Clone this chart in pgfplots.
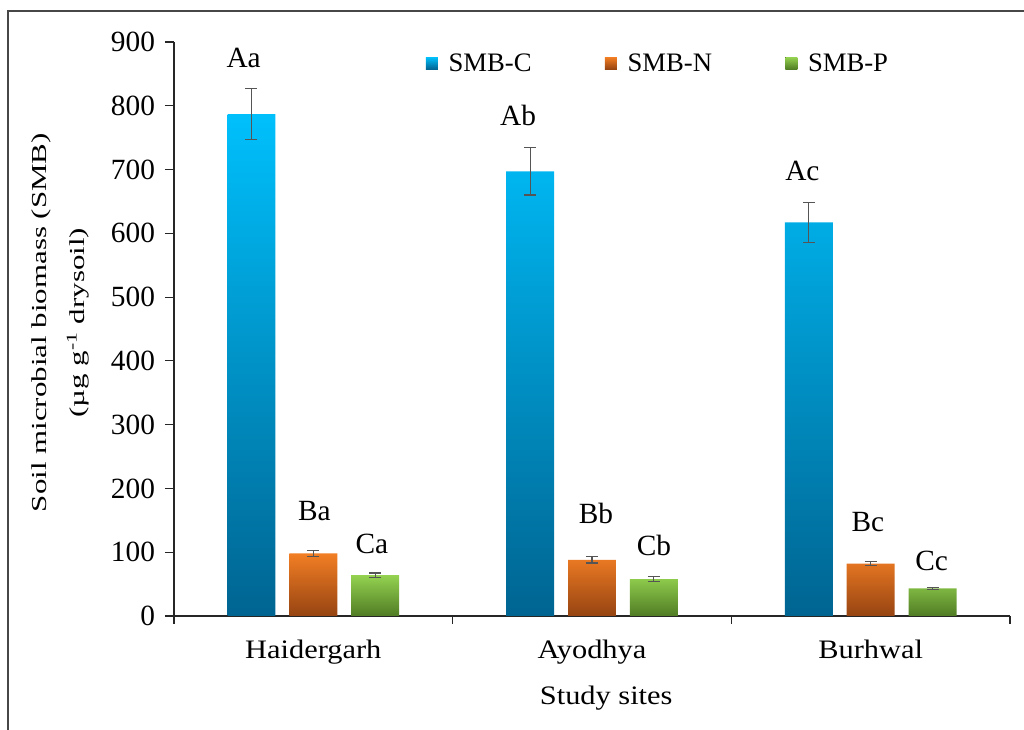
\documentclass[border=0pt]{standalone}
\usepackage{fontspec}
\setmainfont{Liberation Serif}
\newfontfamily\xfont{Liberation Serif}[FakeStretch=1.14]
\newfontfamily\yfont{Liberation Serif}[FakeStretch=1.45]
\usepackage{pgfplots}
\pgfplotsset{compat=1.18}
\definecolor{cTop}{RGB}{0,192,252}
\definecolor{cBot}{RGB}{0,100,145}
\definecolor{nTop}{RGB}{242,126,36}
\definecolor{nBot}{RGB}{150,68,18}
\definecolor{pTop}{RGB}{148,210,80}
\definecolor{pBot}{RGB}{80,124,36}
\definecolor{errc}{RGB}{85,85,85}
\pgfplotsset{
  sq legend/.style={legend image code/.code={\fill[##1] (0pt,-4.5pt) rectangle (9pt,4.5pt);}},
  mybar/.style={ybar, bar width=0.172, bar shift=0pt, draw=none, sq legend},
  myerr/.style={forget plot, draw=none, mark=none,
    error bars/.cd, y dir=both, y explicit,
    error bar style={line width=0.9pt, draw=errc, solid},
    error mark options={rotate=90, mark size=4.5pt, line width=0.9pt, draw=errc, solid}},
}
\begin{document}
\begin{tikzpicture}
\useasboundingbox (-130.5pt,-85.5pt) rectangle (637.5pt,462pt);
\draw[line width=1.3pt, color=black!72] (-124.5pt,-100pt) -- (-124.5pt,453.75pt) -- (660pt,453.75pt);
\begin{axis}[
  at={(0pt,0pt)}, anchor=south west,
  scale only axis, width=627pt, height=430.5pt,
  xmin=-0.5, xmax=2.5, ymin=0, ymax=900,
  axis x line*=bottom, axis y line*=left,
  axis line style={line width=0.9pt, black!85},
  xtick={0,1,2}, xticklabels={Haidergarh,Ayodhya,Burhwal},
  minor xtick={-0.5,0.5,1.5,2.5},
  ytick={0,100,...,900},
  tick align=outside,
  major tick length=6.75pt, minor tick length=6pt,
  tick style={line width=0.9pt, black!85},
  major x tick style={draw=none},
  /pgf/number format/assume math mode=true,
  x tick label style={font=\xfont\fontsize{20}{24}\selectfont, yshift=-8pt},
  y tick label style={font=\fontsize{22}{26}\selectfont, xshift=-4pt},
  xlabel={Study sites},
  xlabel style={font=\xfont\fontsize{20}{24}\selectfont, at={(axis description cs:0.517,0)}, anchor=north, yshift=-49pt},
  ylabel={Soil microbial biomass (SMB)\\(µg g\textsuperscript{-1} drysoil)},
  ylabel style={font=\yfont\fontsize{16}{29}\selectfont, align=center, at={(axis description cs:-0.1358,0.511)}, anchor=center},
  legend style={at={(axis description cs:0.301,0.963)}, anchor=west, draw=none, fill=none,
    font=\fontsize{20}{24}\selectfont, inner sep=0pt,
    /tikz/every odd column/.append style={column sep=6pt},
    /tikz/every even column/.append style={column sep=53pt}},
  legend columns=3,
]
\addplot[mybar, top color=cTop, bottom color=cBot] coordinates {(-0.222,787) (0.778,697) (1.778,617)};
\addlegendentry{SMB-C}
\addplot[mybar, top color=nTop, bottom color=nBot] coordinates {(0,98) (1,88) (2,82)};
\addlegendentry{SMB-N}
\addplot[mybar, top color=pTop, bottom color=pBot] coordinates {(0.222,64) (1.222,58) (2.222,43.5)};
\addlegendentry{SMB-P}
\addplot[myerr] coordinates {(-0.222,787) +- (0,40) (0.778,697) +- (0,37) (1.778,617) +- (0,31)};
\addplot[myerr] coordinates {(0,98) +- (0,5) (1,88) +- (0,5) (2,82) +- (0,3)};
\addplot[myerr] coordinates {(0.222,64) +- (0,3.5) (1.222,58) +- (0,3.5) (2.222,43.5) +- (0,1.5)};
\begin{scope}[every node/.style={font=\fontsize{22}{26}\selectfont}]
\node at (axis cs:-0.25,875) {Aa};
\node at (axis cs:0.735,785) {Ab};
\node at (axis cs:1.755,698) {Ac};
\node at (axis cs:0.004,165) {Ba};
\node at (axis cs:1.014,161) {Bb};
\node at (axis cs:1.99,147) {Bc};
\node at (axis cs:0.21,113) {Ca};
\node at (axis cs:1.222,111) {Cb};
\node at (axis cs:2.219,86) {Cc};
\end{scope}
\end{axis}
\end{tikzpicture}
\end{document}
